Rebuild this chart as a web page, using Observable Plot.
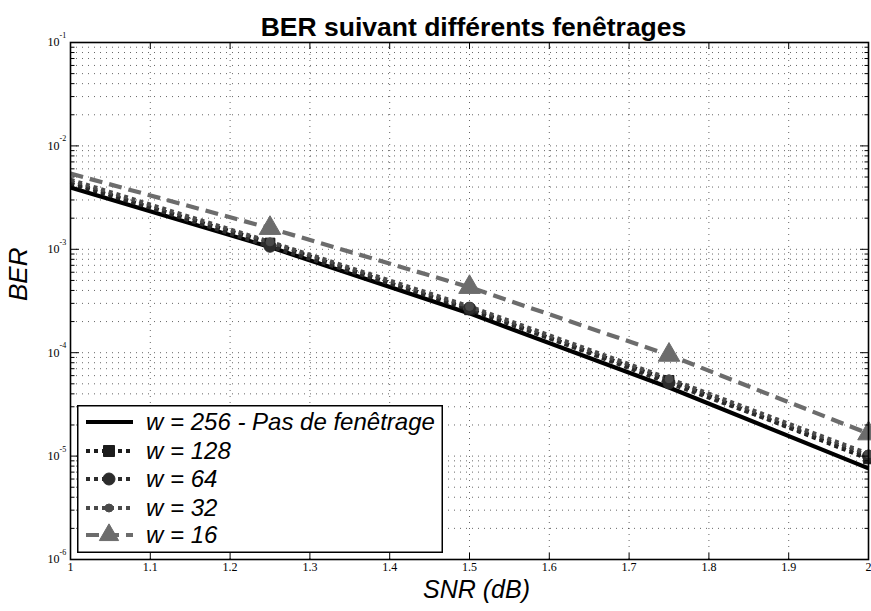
<!DOCTYPE html>
<html><head><meta charset="utf-8">
<script src="https://cdn.jsdelivr.net/npm/d3@7"></script>
<script src="https://cdn.jsdelivr.net/npm/@observablehq/plot@0.6"></script>
<style>
body{margin:0;background:#fff;}
#wrap{position:relative;width:871px;height:611px;overflow:hidden;}
#title{position:absolute;left:38px;width:871px;top:12px;line-height:26px;text-align:center;font:bold 26.5px "Liberation Sans",Arial,sans-serif;color:#000;}
#legend{position:absolute;left:77px;top:405px;}
</style></head><body>
<div id="wrap"><div id="chart"></div><div id="title"></div><div id="legend"></div></div>
<script>
// ---- data ----
const snr = [1, 1.25, 1.5, 1.75, 2];
const ber_w256 = [3.96e-3, 1.05e-3, 2.4e-4, 4.6e-5, 7.6e-6];
const ber_w128 = [4.3e-3, 1.15e-3, 2.6e-4, 5.4e-5, 9.4e-6];
const ber_w64  = [4.5e-3, 1.07e-3, 2.7e-4, 5.1e-5, 1.0e-5];
const ber_w32  = [4.7e-3, 1.18e-3, 2.8e-4, 5.6e-5, 1.05e-5];
const ber_w16  = [5.4e-3, 1.6e-3, 4.3e-4, 9.5e-5, 1.65e-5];
const seriesNames = ["w = 256 - Pas de fenêtrage", "w = 128", "w = 64", "w = 32", "w = 16"];
const xTicks = [1, 1.1, 1.2, 1.3, 1.4, 1.5, 1.6, 1.7, 1.8, 1.9, 2];
const xTickLabels = ["1", "1.1", "1.2", "1.3", "1.4", "1.5", "1.6", "1.7", "1.8", "1.9", "2"];
const yMajor = [1e-6, 1e-5, 1e-4, 1e-3, 1e-2, 1e-1];
const yExponents = ["-6", "-5", "-4", "-3", "-2", "-1"];
const titleText = "BER suivant différents fenêtrages";
const xLabel = "SNR (dB)";
const yLabel = "BER";

document.getElementById("title").textContent = titleText;

// ---- styles ----
const styles = [
  {stroke: "#000", width: 4.2, dash: null, symbol: null, r: 0},
  {stroke: "#1c1c1c", width: 4.2, dash: "4,4", symbol: "square", r: 5.5},
  {stroke: "#2c2c2c", width: 4.2, dash: "4,4", symbol: "circle", r: 6},
  {stroke: "#4a4a4a", width: 4.2, dash: "4,4", symbol: "circle", r: 4},
  {stroke: "#6c6c6c", width: 4.2, dash: "13,7", symbol: "triangle", r: 8}
];
const allSeries = [ber_w256, ber_w128, ber_w64, ber_w32, ber_w16];
const yMinor = [];
for (const m of yMajor.slice(0, -1)) for (let k = 2; k <= 9; k++) yMinor.push(m * k);
const yGrid = [...yMajor, ...yMinor];

const serif = "'Liberation Serif','DejaVu Serif',serif";
const sans = "'Liberation Sans',Arial,sans-serif";

const marks = [];
marks.push(Plot.gridX(xTicks, {stroke: "#000", strokeOpacity: 0.6, strokeDasharray: "1,5"}));
marks.push(Plot.gridY(yGrid, {stroke: "#000", strokeOpacity: 0.6, strokeDasharray: "1,5"}));
// lines & markers
allSeries.forEach((vals, i) => {
  const s = styles[i];
  const rows = snr.map((x, j) => ({x, y: vals[j]}));
  marks.push(Plot.line(rows, {x: "x", y: "y", stroke: s.stroke, strokeWidth: s.width, strokeDasharray: s.dash, strokeLinecap: "butt"}));
});
allSeries.forEach((vals, i) => {
  const s = styles[i];
  if (!s.symbol) return;
  const rows = snr.map((x, j) => ({x, y: vals[j]})).slice(1);
  marks.push(Plot.dot(rows, {x: "x", y: "y", symbol: s.symbol, r: s.r, fill: s.stroke, stroke: s.stroke, strokeWidth: 1}));
});
// inward ticks
marks.push(Plot.axisY({anchor: "left", ticks: yMajor, tickSize: 9, dx: 9, tickFormat: () => "", label: null}));
marks.push(Plot.axisY({anchor: "left", ticks: yMinor, tickSize: 4.5, dx: 4.5, tickFormat: () => "", label: null}));
marks.push(Plot.axisY({anchor: "right", ticks: yMajor, tickSize: 9, dx: -9, tickFormat: () => "", label: null}));
marks.push(Plot.axisY({anchor: "right", ticks: yMinor, tickSize: 4.5, dx: -4.5, tickFormat: () => "", label: null}));
marks.push(Plot.axisX({anchor: "bottom", ticks: xTicks, tickSize: 6, dy: -6, tickFormat: () => "", label: null}));
marks.push(Plot.axisX({anchor: "top", ticks: xTicks, tickSize: 6, dy: 6, tickFormat: () => "", label: null}));
// tick labels
marks.push(Plot.text(xTicks, {x: d => d, text: (d, i) => xTickLabels[i], frameAnchor: "bottom", dy: 11, fontFamily: serif, fontSize: 12, fill: "#000"}));
marks.push(Plot.text(yMajor, {y: d => d, text: () => "10", frameAnchor: "left", dx: -11, textAnchor: "end", dy: 0, fontFamily: serif, fontSize: 12, fill: "#000"}));
marks.push(Plot.text(yMajor, {y: d => d, text: (d, i) => yExponents[i], frameAnchor: "left", dx: -11, textAnchor: "start", dy: -7, fontFamily: serif, fontSize: 8, fill: "#000"}));
// axis titles
marks.push(Plot.text([xLabel], {text: d => d, frameAnchor: "bottom", dx: 7, dy: 38, fontFamily: sans, fontStyle: "italic", fontSize: 25, fill: "#000"}));
marks.push(Plot.text([yLabel], {text: d => d, frameAnchor: "left", dx: -52, dy: 0, rotate: -90, fontFamily: sans, fontStyle: "italic", fontSize: 26, fill: "#000"}));
marks.push(Plot.frame({stroke: "#000", strokeWidth: 1.6}));

const chart = Plot.plot({
  width: 871, height: 611,
  marginLeft: 70, marginRight: 3, marginTop: 42, marginBottom: 52,
  x: {domain: [1, 2], axis: null},
  y: {type: "log", domain: [1e-6, 1e-1], axis: null},
  style: {background: "#fff", overflow: "visible"},
  marks
});
document.getElementById("chart").appendChild(chart);

// legend
const W = 366, H = 148;
const lg = d3.select("#legend").append("svg").attr("width", W).attr("height", H);
lg.append("rect").attr("x", 0.75).attr("y", 0.75).attr("width", W - 1.5).attr("height", H - 1.5).attr("fill", "#fff").attr("stroke", "#000").attr("stroke-width", 1.5);
const rowY = [17, 46, 74, 103, 130];
seriesNames.forEach((name, i) => {
  const s = styles[i], y = rowY[i];
  lg.append("line").attr("x1", 9).attr("x2", 56).attr("y1", y).attr("y2", y)
    .attr("stroke", s.stroke).attr("stroke-width", s.width).attr("stroke-dasharray", s.dash);
  if (s.symbol) {
    const sym = {square: d3.symbolSquare, circle: d3.symbolCircle, triangle: d3.symbolTriangle}[s.symbol];
    const size = s.symbol === "square" ? (2 * s.r) ** 2 : s.symbol === "triangle" ? Math.PI * s.r * s.r * 0.8 : Math.PI * s.r * s.r;
    lg.append("path").attr("d", d3.symbol(sym, size)()).attr("transform", `translate(32,${y})`).attr("fill", s.stroke).attr("stroke", s.stroke);
  }
  lg.append("text").attr("x", 69).attr("y", y).attr("dy", "0.35em").attr("font-family", sans).attr("font-style", "italic").attr("font-size", 24).text(name);
});
</script>
</body></html>
